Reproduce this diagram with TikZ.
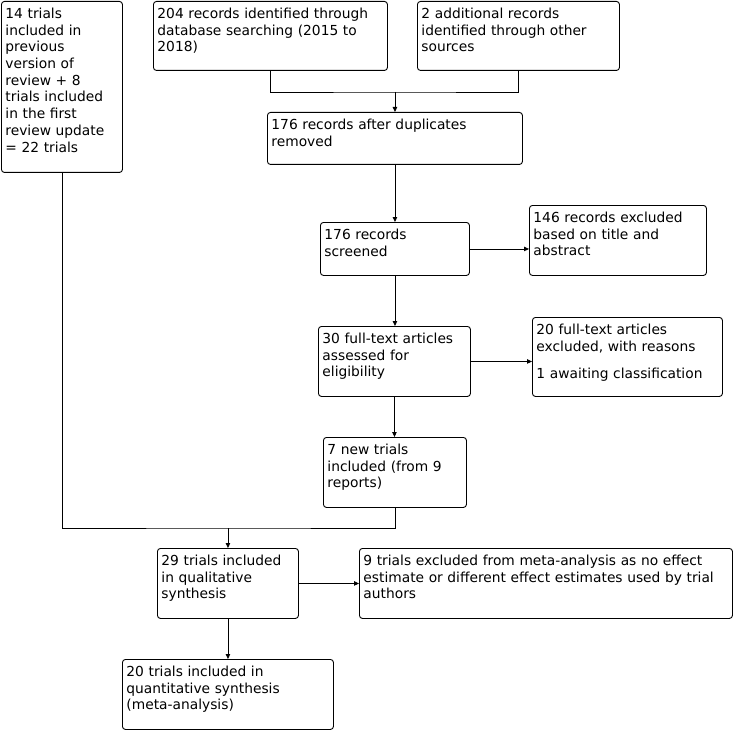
\documentclass[tikz,border=0pt]{standalone}
\usepackage{fontspec}
\setmainfont{DejaVu Sans}
\usetikzlibrary{arrows.meta, positioning}

\tikzset{
  stage/.style={draw, line width=0.9pt, rounded corners=3pt, anchor=north west,
    inner xsep=4pt, inner ysep=0pt, align=left, text height=17pt,
    font=\fontsize{13.8}{16.7}\selectfont},
  flow/.style={line width=0.9pt, -{Triangle[length=5pt,width=4.5pt]}},
  link/.style={line width=0.9pt},
}

\begin{document}
\begin{tikzpicture}[x=1pt, y=-1pt]
  \useasboundingbox (0,0) rectangle (733,730);

  % identification
  \node[stage, text width=113pt, text depth=154pt] (prev) at (1,1) {
    14 trials\\ included in\\ previous\\ version of\\ review + 8\\
    trials included\\ in the first\\ review update\\ = 22 trials};
  \node[stage, text width=226pt, text depth=52pt] (dbsearch) at (153,1) {
    204 records identified through\\ database searching (2015 to\\ 2018)};
  \node[stage, text width=194pt, text depth=52pt] (other) at (417,1) {
    2 additional records\\ identified through other\\ sources};
  \node[stage, text width=247pt, text depth=35pt] (dedup) at (267,112) {
    176 records after duplicates\\ removed};

  % screening
  \node[stage, text width=141pt, text depth=36pt] (screened) at (320,222) {
    176 records\\ screened};
  \node[stage, text width=169pt, text depth=53pt] (exclTitle) at (529,205) {
    146 records excluded\\ based on title and\\ abstract};

  % eligibility
  \node[stage, text width=144pt, text depth=53pt] (fulltext) at (318,326) {
    30 full-text articles\\ assessed for\\ eligibility};
  \node[stage, text width=182pt, text depth=62pt] (exclFull) at (532,317) {
    20 full-text articles\\ excluded, with reasons\\[11pt] 1 awaiting classification};
  \node[stage, text width=135pt, text depth=53pt] (newtrials) at (323,437) {
    7 new trials\\ included (from 9\\ reports)};

  % included
  \node[stage, text width=133pt, text depth=53pt] (quali) at (157,548) {
    29 trials included\\ in qualitative\\ synthesis};
  \node[stage, text width=365pt, text depth=53pt] (exclMeta) at (359,548) {
    9 trials excluded from meta-analysis as no effect\\
    estimate or different effect estimates used by trial\\ authors};
  \node[stage, text width=203pt, text depth=53pt] (quanti) at (122,659) {
    20 trials included in\\ quantitative synthesis\\ (meta-analysis)};

  % connectors
  \coordinate (merge) at (dedup.north |- 0,92);
  \draw[link] (dbsearch.south) |- (merge) -| (other.south);
  \draw[flow] (merge) -- (dedup.north);
  \draw[flow] (dedup.south) -- (dedup.south |- screened.north);
  \draw[flow] (screened.east) -- (screened.east -| exclTitle.west);
  \draw[flow] (screened.south) -- (screened.south |- fulltext.north);
  \draw[flow] (fulltext.east) -- (fulltext.east -| exclFull.west);
  \draw[flow] (fulltext.south) -- (fulltext.south |- newtrials.north);

  \coordinate (pool) at (quali.north |- 0,528);
  \draw[link] (prev.south) |- (pool) -| (newtrials.south);
  \draw[flow] (pool) -- (quali.north);
  \draw[flow] (quali.east) -- (quali.east -| exclMeta.west);
  \draw[flow] (quali.south) -- (quali.south |- quanti.north);
\end{tikzpicture}
\end{document}
